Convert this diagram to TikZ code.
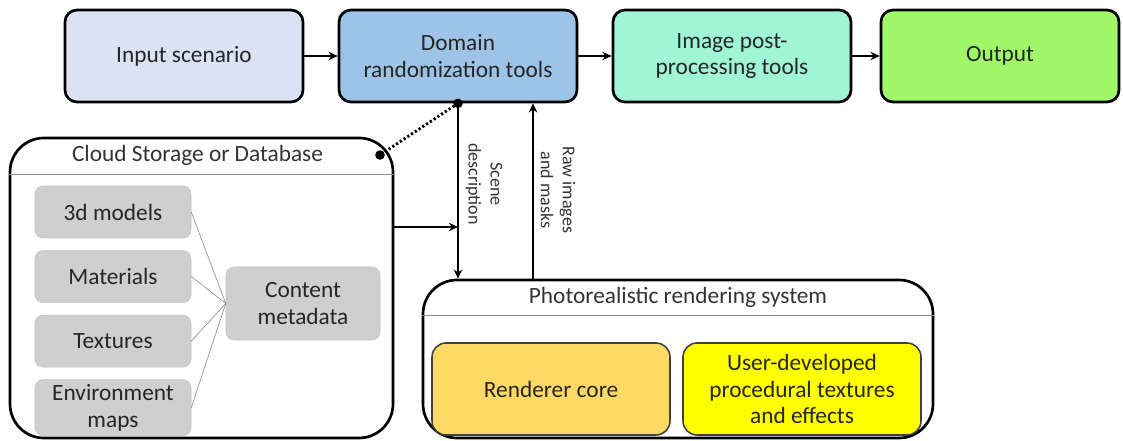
\documentclass[tikz,border=0pt]{standalone}
\usepackage{fontspec}
\setmainfont{Carlito}
\usetikzlibrary{arrows.meta,calc,positioning}
\definecolor{inblue}{HTML}{DAE3F3}
\definecolor{randblue}{HTML}{9DC3E6}
\definecolor{postmint}{HTML}{A0F5D6}
\definecolor{outgreen}{HTML}{A0F76A}
\definecolor{coregold}{HTML}{FFD966}
\definecolor{useryellow}{HTML}{FFFF00}

\begin{document}
\begin{tikzpicture}[>={Stealth[length=6.5pt,width=6pt]},
  topbox/.style={draw,line width=1.9pt,rounded corners=0.3cm,minimum width=5.95cm,minimum height=2.3cm,align=center,font=\fontsize{16.6}{19}\selectfont,text=black!85},
  group/.style={draw,line width=1.9pt,rounded corners=0.85cm},
  grouptitle/.style={font=\fontsize{16.6}{19}\selectfont,text=black!80},
  item/.style={fill=black!19,draw=black!24,rounded corners=0.2cm,minimum width=3.9cm,minimum height=1.3cm,align=center,font=\fontsize{16.6}{19}\selectfont,text=black!85},
  core/.style={draw=black!75,line width=1.1pt,rounded corners=0.35cm,minimum width=5.95cm,minimum height=2.3cm,align=center,font=\fontsize{16.6}{19}\selectfont,text=black!85},
  flow/.style={->,line width=1.8pt},
  side/.style={rotate=-90,align=center,font=\fontsize{12.8}{15.5}\selectfont,text=black!80}]
  \useasboundingbox (0,0) rectangle (28.075,11.025);
  \node[topbox,fill=inblue] (input) at (4.6,9.625) {Input scenario};
  \node[topbox,fill=randblue] (domain) at (11.45,9.625) {Domain\\randomization tools};
  \node[topbox,fill=postmint] (post) at (18.3,9.625) {Image post-\\processing tools};
  \node[topbox,fill=outgreen] (output) at (25.0,9.625) {Output};
  \draw[flow] (input) -- (domain);
  \draw[flow] (domain) -- (post);
  \draw[flow] (post) -- (output);

  \node[group,minimum width=9.575cm,minimum height=7.5cm] (cloud) at (5.0375,3.825) {};
  \draw[black!45] ($(cloud.north west)+(0,-0.95)$) -- ($(cloud.north east)+(0,-0.95)$);
  \node[grouptitle] (cloudtitle) at ($(cloud.north)+(-0.1,-0.475)$) {Cloud Storage or Database};
  \node[item] (models) at (2.825,5.725) {3d models};
  \node[item,below=0.3cm of models] (materials) {Materials};
  \node[item,below=0.3cm of materials] (textures) {Textures};
  \node[item,below=0.3cm of textures] (envmaps) {Environment\\maps};
  \node[item,minimum width=3.85cm,minimum height=1.825cm] (meta) at (7.575,3.4375) {Content\\metadata};
  \foreach \n in {models,materials,textures,envmaps}
    \draw[black!50,thin] (\n.east) -- (meta.west);

  \node[group,minimum width=12.75cm,minimum height=3.95cm] (render) at (16.95,2.05) {};
  \draw[black!45] ($(render.north west)+(0,-0.925)$) -- ($(render.north east)+(0,-0.925)$);
  \node[grouptitle] (rendertitle) at ($(render.north)+(0,-0.46)$) {Photorealistic rendering system};
  \node[core,fill=coregold] (rcore) at (13.775,1.3) {Renderer core};
  \node[core,fill=useryellow] (usertex) at (20.05,1.3) {User-developed\\procedural textures\\and effects};

  \coordinate (rawtap) at ($(domain.south)+(1.875,0)$);
  \coordinate (cloudtap) at (9.5,7.15);
  \draw[flow] (domain.south) -- (domain.south |- render.north);
  \draw[flow] (rawtap |- render.north) -- (rawtap);
  \draw[flow] ([yshift=1.525cm]cloud.east) -- ([yshift=1.525cm]cloud.east -| domain.south);
  \draw[line width=2pt,dash pattern=on 1.6pt off 1.6pt] (domain.south) -- (cloudtap);
  \fill (domain.south) circle (0.12);
  \fill (cloudtap) circle (0.12);
  \node[side] (scenelbl) at (12.1,6.425) {Scene\\description};
  \node[side] (rawlbl) at (13.95,6.275) {Raw images\\and masks};
\end{tikzpicture}
\end{document}
